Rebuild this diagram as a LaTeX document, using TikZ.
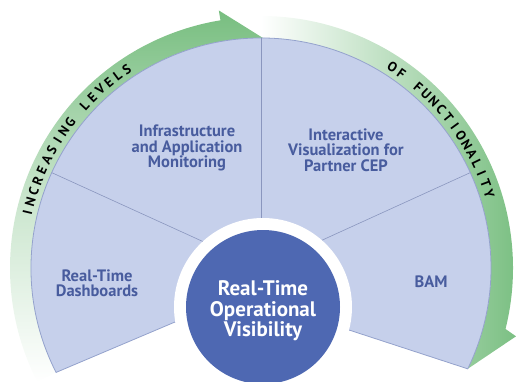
\documentclass[tikz,border=0pt]{standalone}
\usepackage{fontspec}
\newfontfamily\labelfont{PT Sans}
\usepackage{xcolor}
\definecolor{fanblue}{RGB}{198,208,235}
\definecolor{fanedge}{RGB}{148,162,204}
\definecolor{fanline}{RGB}{138,150,190}
\definecolor{labelblue}{RGB}{72,92,158}
\definecolor{hubblue}{RGB}{78,104,178}
\definecolor{bandgreen}{RGB}{120,190,128}

\tikzset{
  seglabel/.style={font=\labelfont\bfseries\fontsize{16.5}{15.5}\selectfont,
    text=labelblue, align=center},
  hublabel/.style={font=\labelfont\bfseries\fontsize{21}{20.5}\selectfont,
    text=white, align=center},
  bandletter/.style={font=\labelfont\bfseries\fontsize{13.5}{13.5}\selectfont,
    inner sep=0pt}
}

\begin{document}
\begin{tikzpicture}[x=1pt,y=1pt]
  \useasboundingbox (0,0) rectangle (516,381);
  \coordinate (C) at (261,113);
  \coordinate (D) at (263,74);

  % right arrow band, pale at the top
  \path[left color=white, right color=bandgreen]
    ([shift={(C)}]90:252) arc[start angle=90, end angle=-14, radius=252]
    -- ([shift={(C)}]-15:264) -- ([shift={(C)}]-26:230)
    arc[start angle=-26, end angle=90, radius=230] -- cycle;

  % left arrow band, fading out at the bottom
  \path[top color=bandgreen, bottom color=white, middle color=bandgreen!40]
    ([shift={(C)}]207:251) arc[start angle=207, end angle=99.3, radius=251]
    -- ([shift={(C)}]99.3:261) -- ([shift={(C)}]89.5:230)
    arc[start angle=89.5, end angle=207, radius=230] -- cycle;

  % the fan
  \coordinate (inL) at (175,59);
  \coordinate (inR) at (349,51);
  \path[fill=fanblue, draw=fanedge, line width=0.8]
    (inL) -- ([shift={(C)}]207:230) arc[start angle=207, end angle=-26, radius=230]
    -- (inR) -- cycle;
  \foreach \a in {155.5,90,24.5}
    \draw[fanline, line width=0.6] (C) -- ([shift={(C)}]\a:230);

  % hub
  \fill[white] (D) circle[radius=89];
  \node[circle, fill=hubblue, minimum size=154] (hub) at (D) {};
  \node[hublabel] (hubtext) at ([yshift=-4]hub.center)
    {Real-Time\\Operational\\Visibility};

  \node[seglabel] (infra) at (187,233) {Infrastructure\\and Application\\Monitoring};
  \node[seglabel] (cep) at (346,231) {Interactive\\Visualization for\\Partner CEP};
  \node[seglabel] (dash) at (97,98) {Real-Time\\Dashboards};
  \node[seglabel] (bam) at (431,99) {BAM};

  % lettering on the bands
  \foreach \ch [count=\i] in {I,N,C,R,E,A,S,I,N,G,{},L,E,V,E,L,S} {
    \pgfmathsetmacro\ang{166.6-(\i-1)*2.66}
    \node[bandletter, rotate=\ang-90] (inc\i) at ([shift={(C)}]\ang:240) {\ch};
  }
  \foreach \ch [count=\i] in {O,F,{},F,U,N,C,T,I,O,N,A,L,I,T,Y} {
    \pgfmathsetmacro\ang{56.8-(\i-1)*2.58}
    \node[bandletter, rotate=\ang-90] (fun\i) at ([shift={(C)}]\ang:240) {\ch};
  }
\end{tikzpicture}
\end{document}
